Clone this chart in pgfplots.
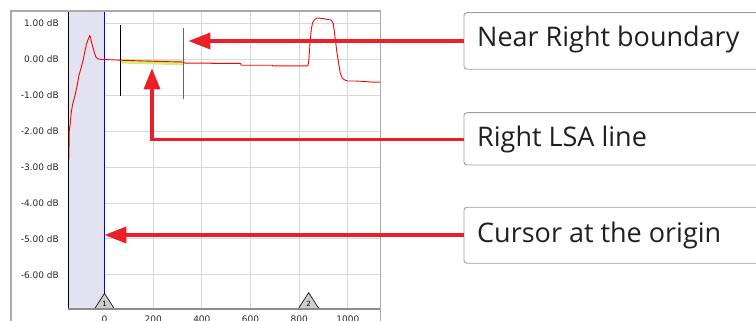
\documentclass[border=0pt]{standalone}
\usepackage{pgfplots}
\pgfplotsset{compat=1.18}
\usepackage{fontspec}
\setmainfont{DejaVu Sans}
\newfontfamily\boxfont{Open Sans}
\usetikzlibrary{arrows.meta}
\definecolor{shadecol}{RGB}{226,226,240}
\definecolor{gridcol}{RGB}{216,216,216}
\definecolor{framecol}{RGB}{170,170,170}
\definecolor{botcol}{RGB}{140,140,140}
\definecolor{annred}{RGB}{236,30,40}
\definecolor{lsagreen}{RGB}{205,240,120}
\definecolor{boxborder}{RGB}{160,160,160}
\definecolor{txtcol}{RGB}{35,31,32}
\definecolor{ticktxt}{RGB}{40,40,40}
\definecolor{markergray}{RGB}{205,205,205}
\definecolor{darkbound}{RGB}{100,100,100}
\begin{document}
\begin{tikzpicture}[x=1pt,y=1pt]
\useasboundingbox (0,0) rectangle (756,321);
\fill[white] (0,0) rectangle (756,321);
\begin{scope}
\clip (0,0) rectangle (756,321);
\begin{axis}[
  at={(68pt,12pt)}, anchor=south west,
  scale only axis, width=312.7pt, height=298pt,
  xmin=-150, xmax=1135, ymin=-6.95, ymax=1.35,
  xtick={0,200,400,600,800,1000},
  xticklabels={0,200,400,600,800,1000},
  ytick={-6,-5,-4,-3,-2,-1,0,1},
  yticklabels={-6.00 dB,-5.00 dB,-4.00 dB,-3.00 dB,-2.00 dB,-1.00 dB,0.00 dB,1.00 dB},
  grid=major,
  major grid style={gridcol, line width=1pt},
  major tick length=0pt,
  axis line style={draw=none},
  tick label style={font=\fontsize{9}{10}\selectfont, text=ticktxt},
  yticklabel style={anchor=east, inner sep=0pt, xshift=-9pt},
  xticklabel style={anchor=north, inner sep=0pt, yshift=-7pt},
]
% shaded region left of the origin
\addplot[fill=shadecol, draw=none] coordinates {(-150,-6.95) (0,-6.95) (0,1.35) (-150,1.35)} \closedcycle;
% LSA line (green)
\addplot[lsagreen, line width=4.5pt] coordinates {(64,-0.05) (324,-0.10)};
% boundaries
\addplot[black, line width=1pt] coordinates {(64,0.96) (64,-1.02)};
\addplot[darkbound, line width=1.3pt] coordinates {(324,0.87) (324,-1.09)};
% cursor at origin
\addplot[blue, line width=1pt] coordinates {(0,-6.95) (0,1.35)};
% trace
\addplot[red, line width=0.9pt] coordinates {
(-146,-2.78) (-145.5,-2.2) (-144.5,-1.95) (-141,-1.8) (-137,-1.5) (-131,-1.25)
(-121,-1.0) (-113,-0.75) (-105,-0.45) (-95,-0.2) (-87,0.0) (-80,0.25)
(-73,0.45) (-66,0.58) (-61,0.66) (-58,0.63) (-54,0.5) (-48,0.35) (-42,0.2)
(-36,0.08) (-28,0.02) (-15,0.0) (0,0.0) (30,-0.01) (64,-0.02) (150,-0.04)
(250,-0.06) (324,-0.07) (330,-0.10) (440,-0.10) (441,-0.11) (560,-0.11)
(561,-0.16) (690,-0.16) (691,-0.18) (836,-0.18) (840,0.0) (845,0.5)
(850,0.85) (855,1.02) (862,1.1) (872,1.15) (885,1.15) (905,1.13) (930,1.1)
(936,1.05) (940,1.0) (945,0.75) (949,0.54) (955,0.2) (962,-0.1) (969,-0.38)
(977,-0.52) (990,-0.58) (1000,-0.6) (1030,-0.6) (1060,-0.61) (1100,-0.63) (1135,-0.63)
};
% markers
\draw[black, fill=markergray, line width=0.6pt] ([xshift=-10pt]axis cs:0,-6.95) -- ([yshift=15.7pt]axis cs:0,-6.95) -- ([xshift=10pt]axis cs:0,-6.95) -- cycle;
\node[font=\fontsize{7}{8}\selectfont, inner sep=0pt] at ([yshift=5.5pt]axis cs:0,-6.95) {1};
\draw[black, fill=markergray, line width=0.6pt] ([xshift=-10.5pt]axis cs:839,-6.95) -- ([yshift=16.3pt]axis cs:839,-6.95) -- ([xshift=10.5pt]axis cs:839,-6.95) -- cycle;
\node[font=\fontsize{7}{8}\selectfont, inner sep=0pt] at ([yshift=5.5pt]axis cs:839,-6.95) {2};
\end{axis}
% axis spines and outer frame
\draw[black, line width=1pt] (68,12) -- (68,310);
\draw[botcol, line width=2pt] (68,12) -- (380.7,12);
\draw[framecol, line width=1.5pt] (11,-5) -- (11,310) -- (380.7,310) -- (380.7,-5);
% annotation boxes
\draw[boxborder, line width=0.9pt, fill=white, rounded corners=3pt] (464,251.7) rectangle (790,308.3);
\draw[boxborder, line width=0.9pt, fill=white, rounded corners=3pt] (464,156) rectangle (790,208.3);
\draw[boxborder, line width=0.9pt, fill=white, rounded corners=3pt] (464,57.7) rectangle (790,113.7);
\node[anchor=base west, inner sep=0pt, text=txtcol, font=\boxfont\fontsize{27}{30}\selectfont] at (477,274.3) {Near Right boundary};
\node[anchor=base west, inner sep=0pt, text=txtcol, font=\boxfont\fontsize{27}{30}\selectfont] at (477,174.3) {Right LSA line};
\node[anchor=base west, inner sep=0pt, text=txtcol, font=\boxfont\fontsize{27}{30}\selectfont] at (477,78.7) {Cursor at the origin};
% arrows
\draw[annred, line width=3.5pt, -{Triangle[length=22pt,width=16pt]}] (464,280) -- (188.3,280);
\draw[annred, line width=3.5pt, line join=miter, -{Triangle[length=21pt,width=16pt]}] (464,181.7) -- (152,181.7) -- (152,252.7);
\draw[annred, line width=3.5pt, -{Triangle[length=22pt,width=16pt]}] (464,86) -- (104.3,86);
\end{scope}
\end{tikzpicture}
\end{document}
